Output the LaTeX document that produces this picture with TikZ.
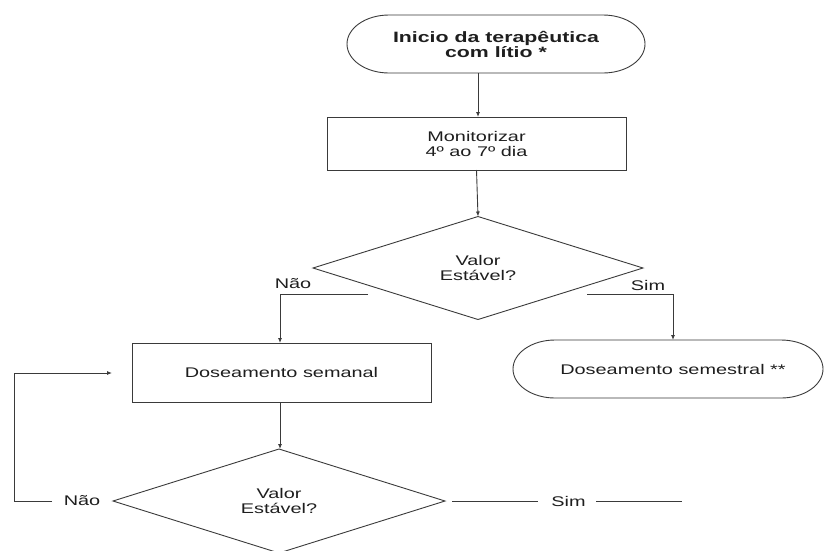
\documentclass[tikz,border=0pt]{standalone}
\usepackage{fontspec}
\setmainfont{Liberation Sans}[FakeStretch=1.42]
\usetikzlibrary{shapes.geometric,arrows.meta}

\definecolor{linegray}{HTML}{3A3A3A}
\definecolor{textgray}{HTML}{1E1E1E}

\tikzset{
  shapeline/.style={draw=linegray, line width=0.9pt},
  flow/.style={draw=linegray, line width=0.9pt, -{Latex[length=5pt,width=4pt]}},
  plainline/.style={draw=linegray, line width=0.9pt},
  txt/.style={text=textgray, font=\fontsize{14}{15}\selectfont, align=center, inner sep=0pt, outer sep=0pt},
  termbox/.style={txt, minimum height=58pt},
  procbox/.style={txt, shapeline, rectangle},
  decision/.style={txt, shapeline, diamond, minimum width=330pt, minimum height=103pt},
  branchlabel/.style={txt}
}

% stadium outline drawn around a plain (undrawn) node
\newcommand\terminaloutline[1]{%
  \draw[shapeline] ([xshift=42pt]#1.north west) -- ([xshift=-42pt]#1.north east)
    arc[start angle=90, end angle=-90, x radius=42pt, y radius=29pt]
    -- ([xshift=42pt]#1.south west)
    arc[start angle=270, end angle=90, x radius=42pt, y radius=29pt] -- cycle;}

\begin{document}
\begin{tikzpicture}[x=1pt,y=1pt]
  \useasboundingbox (0,0) rectangle (824,-550);

  % start terminal
  \node[termbox, minimum width=298pt, font=\fontsize{15}{15}\selectfont\bfseries]
    (start) at (496,-44) {Inicio da terapêutica\\com lítio *};
  \terminaloutline{start}

  % monitoring step
  \node[procbox, minimum width=299pt, minimum height=53pt]
    (monitor) at (476.5,-143.5) {Monitorizar\\4º ao 7º dia};

  % first check
  \node[decision] (check1) at (478,-268) {Valor\\Estável?};

  % weekly dosing
  \node[procbox, minimum width=299pt, minimum height=59pt]
    (weekly) at (281.5,-372.5) {Doseamento semanal};

  % half-yearly dosing terminal
  \node[termbox, minimum width=310pt] (halfyear) at (668,-369) {\hspace*{10pt}Doseamento semestral **};
  \terminaloutline{halfyear}

  % second check
  \node[decision, minimum width=332pt, minimum height=104pt] (check2) at (279,-501) {Valor\\Estável?};

  % branch labels
  \node[branchlabel] (no1) at (293,-284) {Não};
  \node[branchlabel] (yes1) at (648,-285) {Sim};
  \node[branchlabel] (no2) at (82,-501) {Não};
  \node[branchlabel] (yes2) at (568.5,-501) {Sim};

  % free ends of the branch lines
  \coordinate (no1start) at (368,-294);
  \coordinate (yes1start) at (587,-294);
  \coordinate (no2start) at (52,-501);
  \coordinate (loopcorner) at (14,-373);
  \coordinate (yes2a) at (452,-501);
  \coordinate (yes2b) at (538,-501);
  \coordinate (yes2c) at (596,-501);
  \coordinate (yes2d) at (682,-501);

  % main connectors
  \draw[flow] (start.south -| 478,0) -- (monitor.north -| 478,0);
  \draw[flow] (monitor.south) -- (check1.north);
  \draw[flow] (no1start) -- (no1start -| 280,0) -- (weekly.north -| 280,0);
  \draw[flow] (yes1start) -- (yes1start -| 673,0) -- (halfyear.north -| 673,0);
  \draw[flow] (weekly.south -| 280,0) -- (check2.north -| 280,0);

  % loop back to weekly dosing
  \draw[flow] (no2start) -| (loopcorner) -- ([xshift=-20pt]weekly.west |- loopcorner);

  % "Sim" exit of the second check
  \draw[plainline] (yes2a) -- (yes2b);
  \draw[plainline] (yes2c) -- (yes2d);
\end{tikzpicture}
\end{document}
